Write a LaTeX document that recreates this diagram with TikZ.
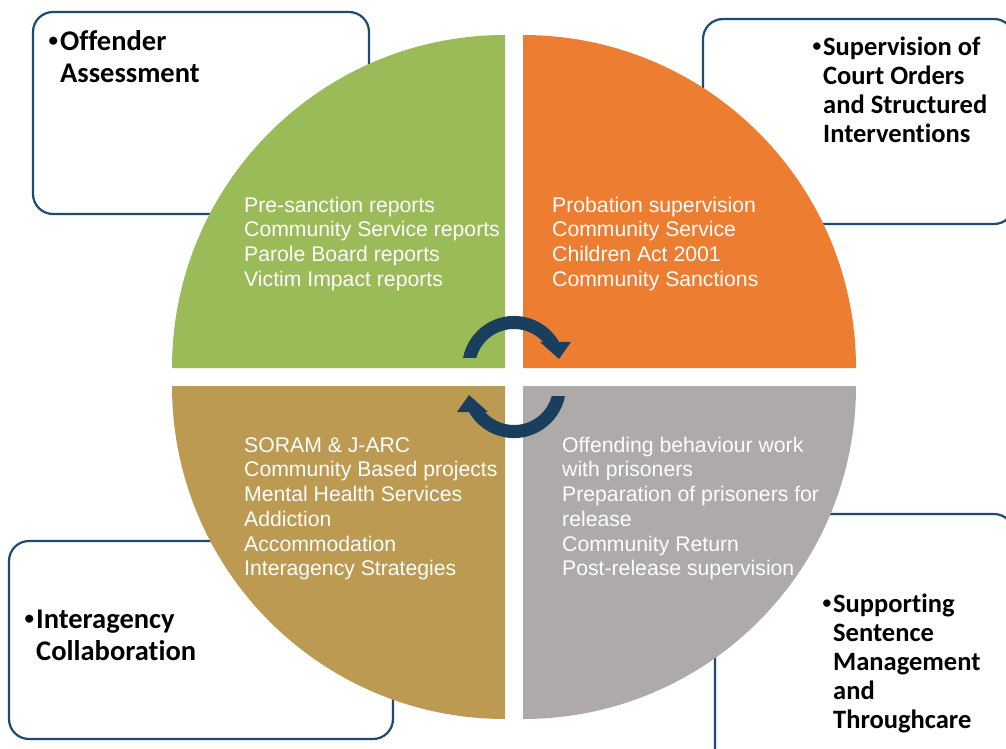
\documentclass[tikz,border=0pt]{standalone}
\usepackage{fontspec}
\setmainfont{Liberation Sans}
\newfontfamily\lblfont[Ligatures=NoCommon]{Carlito}
\definecolor{qgreen}{HTML}{9BBB59}
\definecolor{qorange}{HTML}{ED7D31}
\definecolor{qgold}{HTML}{BD9A52}
\definecolor{qgrey}{HTML}{AEAAAA}
\definecolor{boxblue}{HTML}{1F4A70}
\definecolor{arrowblue}{HTML}{1A3F5E}
% bullet with fixed advance (#1), glyph size (#2), raise (#3)
\newcommand\mybul[3]{\makebox[#1][l]{\hspace{1.5pt}\raisebox{#3}{\fontsize{#2}{#2}\selectfont•}}}
\begin{document}
\begin{tikzpicture}[x=1pt,y=-1pt,
  box/.style={draw=boxblue, line width=2.2pt, rounded corners=20pt, fill=white},
  lbl/.style={anchor=north west, inner sep=0pt, align=left, text=black,
    font=\lblfont\bfseries\fontsize{28.5}{32}\selectfont},
  lblr/.style={lbl, font=\lblfont\bfseries\fontsize{26.5}{29}\selectfont},
  qtext/.style={anchor=north west, inner sep=0pt, align=left, text=white,
    font=\fontsize{21.2}{24.7}\selectfont},
  cyc/.style={fill=arrowblue}]
\useasboundingbox (0,0) rectangle (1006,749);
% boxes behind the circle
\draw[box] (33,12) rectangle (369,214);
\draw[box] (703,19) rectangle (1014,224);
\draw[box] (9,541) rectangle (393,739);
\draw[box] (715,514) rectangle (1014,770);
% quadrants
\fill[qgreen] (505,368) -- (172,368) arc[start angle=180,end angle=270,radius=333] -- cycle;
\fill[qorange] (523,368) -- (523,35) arc[start angle=270,end angle=360,radius=333] -- cycle;
\fill[qgold] (505,386) -- (172,386) arc[start angle=180,end angle=90,radius=333] -- cycle;
\fill[qgrey] (523,386) -- (856,386) arc[start angle=0,end angle=90,radius=333] -- cycle;
% circular arrows
\fill[cyc] (463,358) arc[start angle=191,end angle=330,radius=52] -- (571,342) -- (559,359) -- (540,342) -- (543,342) arc[start angle=318.2,end angle=194.9,radius=39] -- cycle;
\begin{scope}[rotate around={180:(514,377)}]
\fill[cyc] (463,358) arc[start angle=191,end angle=330,radius=52] -- (571,342) -- (559,359) -- (540,342) -- (543,342) arc[start angle=318.2,end angle=194.9,radius=39] -- cycle;
\end{scope}
% quadrant texts
\node[qtext] (tg) at (244,192) {\rule{0pt}{20pt}Pre-sanction reports\\Community Service reports\\Parole Board reports\\Victim Impact reports};
\node[qtext] (to) at (552,192) {\rule{0pt}{20pt}Probation supervision\\Community Service\\Children Act 2001\\Community Sanctions};
\node[qtext] (tb) at (244,432) {\rule{0pt}{20pt}SORAM \& J-ARC\\Community Based projects\\Mental Health Services\\Addiction\\Accommodation\\Interagency Strategies};
\node[qtext] (tr) at (562,432) {\rule{0pt}{20pt}Offending behaviour work\\with prisoners\\Preparation of prisoners for\\release\\Community Return\\Post-release supervision};
% box labels
\node[lbl] (la) at (47,26) {\rule{0pt}{24pt}\mybul{13pt}{19pt}{4pt}Offender\\\hspace*{13pt}Assessment};
\node[lblr] (lb) at (811,31) {\rule{0pt}{24pt}\mybul{12pt}{17.5pt}{3.6pt}Supervision of\\\hspace*{12pt}Court Orders\\\hspace*{12pt}and Structured\\\hspace*{12pt}Interventions};
\node[lbl] (lc) at (23,604) {\rule{0pt}{24pt}\mybul{13pt}{19pt}{4pt}Interagency\\\hspace*{13pt}Collaboration};
\node[lblr] (ld) at (821,588) {\rule{0pt}{24pt}\mybul{12pt}{17.5pt}{3.6pt}Supporting\\\hspace*{12pt}Sentence\\\hspace*{12pt}Management\\\hspace*{12pt}and\\\hspace*{12pt}Throughcare};
\end{tikzpicture}
\end{document}
